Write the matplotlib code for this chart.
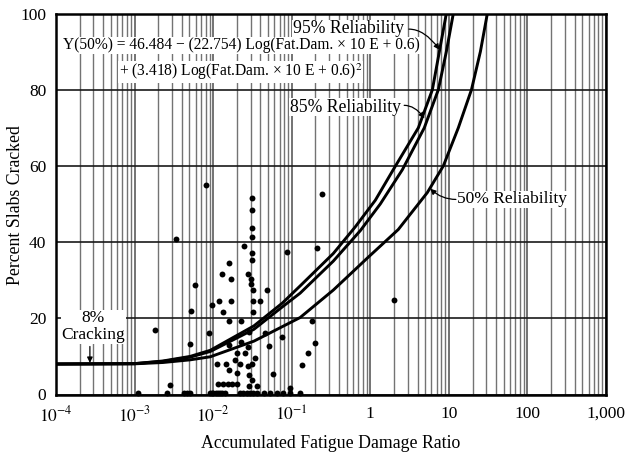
import matplotlib
matplotlib.use('Agg')
import matplotlib.pyplot as plt
from matplotlib.ticker import LogLocator, NullFormatter, FixedLocator
import numpy as np

plt.rcParams['font.family'] = ['Liberation Serif', 'DejaVu Serif']
plt.rcParams['mathtext.fontset'] = 'stix'

# ---------------- data ----------------
x_ticks = [1e-4, 1e-3, 1e-2, 1e-1, 1, 10, 100, 1000]
x_ticklabels = [r'$10^{-4}$', r'$10^{-3}$', r'$10^{-2}$', r'$10^{-1}$', '1', '10', '100', '1,000']
y_ticks = [0, 20, 40, 60, 80, 100]

# reliability curves (fatigue damage, percent slabs cracked)
fd_95 = [1e-4, 1e-3, 0.0023, 0.0051, 0.0092, 0.033, 0.076, 0.128, 0.338, 0.644, 1.16, 1.96, 4.09, 6.17, 7.57, 9.29]
pc_95 = [8.0, 8.1, 8.8, 10.0, 11.6, 18.0, 24.0, 28.5, 37.0, 44.0, 51.0, 59.0, 70.0, 80.0, 90.0, 100.0]

fd_85 = [1e-4, 1e-3, 0.0023, 0.0051, 0.0092, 0.033, 0.076, 0.128, 0.338, 0.746, 1.34, 2.56, 4.87, 7.35, 9.29, 11.4]
pc_85 = [8.0, 8.1, 8.7, 9.8, 11.3, 17.1, 23.0, 26.6, 35.0, 43.0, 50.0, 59.0, 70.0, 80.0, 90.0, 100.0]

fd_50 = [1e-4, 1e-3, 0.0023, 0.0051, 0.0092, 0.033, 0.128, 0.338, 0.916, 2.27, 5.32, 8.51, 13.2, 19.4, 25.2, 30.9]
pc_50 = [8.0, 8.05, 8.4, 9.1, 9.9, 14.0, 20.2, 27.4, 35.8, 43.3, 53.0, 60.0, 70.0, 80.0, 90.0, 100.0]

# observed sections
obs_fd = [0.0081, 0.031, 0.031, 0.031, 0.031, 0.025, 0.031, 0.031, 0.120, 0.243,
          0.087, 0.209, 2.02, 0.0034, 0.0058, 0.0052, 0.0051, 0.0018, 0.0028, 0.0096,
          0.0119, 0.0089, 0.013, 0.016, 0.0168, 0.0168, 0.0135, 0.0157, 0.0274, 0.0302,
          0.0305, 0.0321, 0.0483, 0.0321, 0.0397, 0.0321, 0.0228, 0.046, 0.075, 0.052,
          0.159, 0.135, 0.058, 0.199, 0.181, 0.096, 0.0112, 0.0146, 0.016, 0.0191,
          0.020, 0.0204, 0.0256, 0.0274, 0.0282, 0.0282, 0.0344, 0.0361, 0.0274, 0.0228,
          0.031, 0.031, 0.0115, 0.0133, 0.0154, 0.0175, 0.0200, 0.029, 0.0157, 0.0221]
obs_pc = [55.0, 51.6, 48.4, 43.6, 41.4, 38.9, 37.1, 35.4, 74.9, 52.5,
          37.3, 38.5, 24.9, 40.9, 28.7, 21.8, 13.3, 17.0, 2.5, 23.6,
          24.5, 16.2, 31.6, 34.4, 30.3, 24.5, 21.6, 19.3, 31.7, 30.4,
          28.9, 27.4, 27.4, 24.5, 24.5, 21.6, 19.3, 16.1, 15.2, 12.8,
          10.9, 7.8, 5.4, 13.6, 19.3, 1.8, 8.1, 8.1, 6.5, 9.1,
          5.6, 10.9, 10.9, 7.6, 5.2, 2.2, 9.6, 2.3, 12.5, 13.9,
          8.1, 3.8, 2.8, 2.8, 2.8, 2.8, 2.8, 16.5, 12.9, 8.1]

# sections with no cracking (on the axis)
zero_fd = [0.00112, 0.00257, 0.0043, 0.0046, 0.0051, 0.0092, 0.0097, 0.0101, 0.0108, 0.0115,
           0.0123, 0.013, 0.0142, 0.0221, 0.0243, 0.0268, 0.0296, 0.0325, 0.0361, 0.0438,
           0.0532, 0.0648, 0.0786, 0.0957, 0.128]
zero_pc = [0.4] * len(zero_fd)

# ---------------- figure ----------------
fig = plt.figure(figsize=(6.25, 4.53), dpi=100)
ax = fig.add_axes([56/625, 1 - 394.5/453, 550/625, 381/453])
ax.set_xscale('log')
ax.set_xlim(1e-4, 1e3)
ax.set_ylim(0, 100)

ax.xaxis.set_major_locator(FixedLocator(x_ticks))
ax.set_xticklabels(x_ticklabels)
ax.xaxis.set_minor_locator(LogLocator(base=10, subs=np.arange(2, 10)))
ax.xaxis.set_minor_formatter(NullFormatter())
ax.set_yticks(y_ticks)
ax.tick_params(which='both', length=0, labelsize=12.5)
ax.tick_params(axis='x', pad=8)
ax.tick_params(axis='y', pad=7)

ax.grid(which='minor', axis='x', color='0.45', lw=1.0)
ax.grid(which='major', axis='x', color='0.3', lw=1.1)
ax.grid(which='major', axis='y', color='0.1', lw=1.2)
ax.set_axisbelow(True)
for s in ax.spines.values():
    s.set_linewidth(1.8)
    s.set_color('black')

# curves
for fd, pc in [(fd_95, pc_95), (fd_85, pc_85), (fd_50, pc_50)]:
    ax.plot(fd, pc, color='black', lw=2.1, solid_capstyle='butt', solid_joinstyle='round', zorder=3)

# scatter
ax.scatter(obs_fd, obs_pc, s=18, color='black', zorder=4, linewidths=0)
ax.scatter(zero_fd, zero_pc, s=18, color='black', zorder=4, linewidths=0, clip_on=False)

# labels
ax.set_xlabel('Accumulated Fatigue Damage Ratio', fontsize=12.8, labelpad=7)
fig.text(16/625, 1 - 205/453, 'Percent Slabs Cracked', rotation=90,
         ha='center', va='center', fontsize=12.8)

box = dict(facecolor='white', edgecolor='none', pad=0.5)
ax.text(0.0231, 91.7, 'Y(50%) = 46.484 \u2212 (22.754) Log(Fat.Dam. \u00d7 10 E + 0.6)',
        ha='center', va='center', fontsize=11.2, bbox=box, zorder=5)
ax.text(0.0224, 84.6, '+ (3.418) Log(Fat.Dam. \u00d7 10 E + 0.6)$^{2}$',
        ha='center', va='center', fontsize=11.2, bbox=box, zorder=5)

ax.text(0.53, 96.0, '95% Reliability', ha='center', va='center', fontsize=12.7, bbox=box, zorder=5)
ax.text(0.48, 75.4, '85% Reliability', ha='center', va='center', fontsize=12.7, bbox=box, zorder=5)
ax.text(12.8, 51.2, '50% Reliability', ha='left', va='center', fontsize=12.5, bbox=box, zorder=5)
ax.text(3.0e-4, 17.8, '8%\nCracking', ha='center', va='center', fontsize=12.5,
        linespacing=1.05, bbox=box, zorder=5)

arrow = dict(arrowstyle='-|>', color='black', lw=0.9, mutation_scale=8, shrinkA=0, shrinkB=0)
ax.annotate('', xy=(7.6, 90.5), xytext=(3.1, 95.9),
            arrowprops=dict(arrow, connectionstyle='angle3,angleA=0,angleB=-54'), zorder=6)
ax.annotate('', xy=(4.9, 72.5), xytext=(2.7, 75.9),
            arrowprops=dict(arrow, connectionstyle='angle3,angleA=0,angleB=-53'), zorder=6)
ax.annotate('', xy=(5.8, 54.0), xytext=(12.3, 51.2),
            arrowprops=dict(arrow, connectionstyle='angle3,angleA=0,angleB=-43'), zorder=6)
ax.annotate('', xy=(2.7e-4, 8.3), xytext=(2.7e-4, 12.6),
            arrowprops=dict(arrow), zorder=6)

fig.savefig('out.png', dpi=100)
